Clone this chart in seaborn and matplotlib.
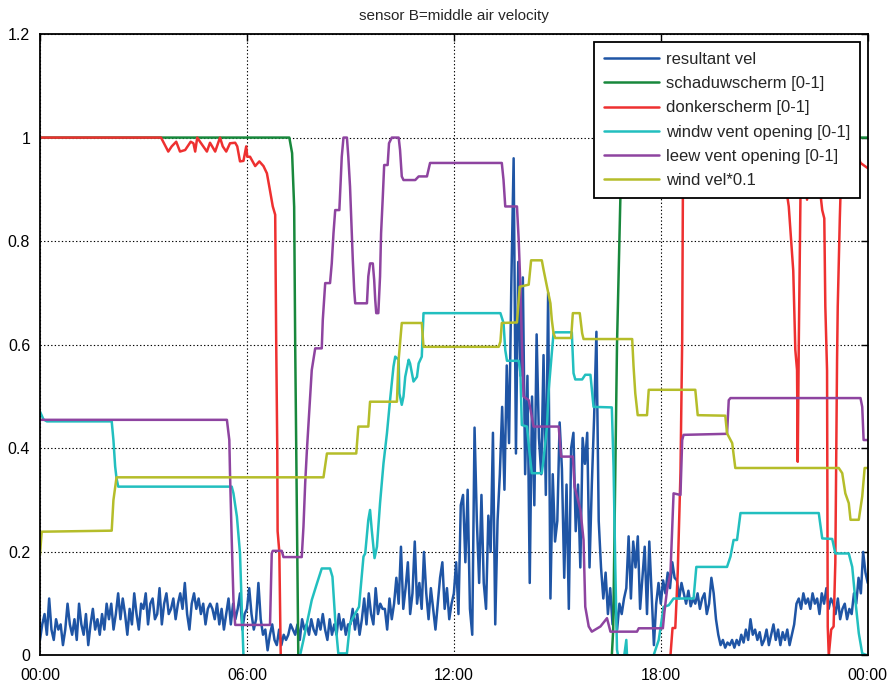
import numpy as np
import matplotlib
matplotlib.use("Agg")
import matplotlib.pyplot as plt
import seaborn as sns

sns.set_style("white")
plt.rcParams['font.family'] = ['Liberation Sans', 'DejaVu Sans']

# ---- data (time in hours after midnight) ----
sample_minutes = 4
resultant_vel = [
    0.03, 0.06, 0.08, 0.04, 0.11, 0.05, 0.03, 0.07, 0.05, 0.06, 0.02, 0.05, 0.10, 0.06, 0.04,
    0.07, 0.03, 0.10, 0.06, 0.04, 0.08, 0.02, 0.06, 0.09, 0.05, 0.07, 0.04, 0.08, 0.05, 0.10,
    0.07, 0.10, 0.05, 0.08, 0.12, 0.07, 0.11, 0.08, 0.04, 0.09, 0.06, 0.12, 0.08, 0.05, 0.10,
    0.09, 0.12, 0.06, 0.10, 0.11, 0.07, 0.08, 0.13, 0.06, 0.10, 0.12, 0.08, 0.09, 0.11, 0.07,
    0.10, 0.12, 0.09, 0.14, 0.08, 0.05, 0.10, 0.12, 0.09, 0.11, 0.08, 0.10, 0.06, 0.09, 0.10,
    0.09, 0.07, 0.10, 0.06, 0.09, 0.05, 0.08, 0.11, 0.06, 0.10, 0.07, 0.09, 0.12, 0.05, 0.08,
    0.09, 0.13, 0.08, 0.05, 0.07, 0.14, 0.07, 0.04, 0.05, 0.01, 0.04, 0.06, 0.03, 0.02, 0.05,
    0.02, 0.04, 0.03, 0.04, 0.06, 0.05, 0.04, 0.06, 0.03, 0.07, 0.05, 0.06, 0.04, 0.07, 0.05,
    0.04, 0.07, 0.05, 0.08, 0.05, 0.03, 0.07, 0.04, 0.06, 0.04, 0.08, 0.05, 0.07, 0.04, 0.06,
    0.06, 0.09, 0.05, 0.08, 0.04, 0.07, 0.11, 0.06, 0.12, 0.08, 0.06, 0.13, 0.08, 0.10, 0.09,
    0.09, 0.05, 0.11, 0.07, 0.10, 0.15, 0.10, 0.21, 0.09, 0.13, 0.18, 0.08, 0.12, 0.22, 0.10,
    0.14, 0.09, 0.20, 0.12, 0.07, 0.13, 0.09, 0.05, 0.10, 0.15, 0.18, 0.09, 0.13, 0.07, 0.10,
    0.12, 0.18, 0.08, 0.29, 0.31, 0.18, 0.32, 0.09, 0.04, 0.44, 0.26, 0.14, 0.31, 0.14, 0.09,
    0.27, 0.20, 0.43, 0.06, 0.26, 0.35, 0.48, 0.32, 0.56, 0.41, 0.72, 0.96, 0.39, 0.76, 0.54,
    0.73, 0.35, 0.54, 0.14, 0.50, 0.29, 0.62, 0.42, 0.35, 0.58, 0.31, 0.70, 0.11, 0.35, 0.22,
    0.26, 0.45, 0.36, 0.15, 0.33, 0.09, 0.40, 0.43, 0.24, 0.33, 0.17, 0.42, 0.37, 0.43, 0.17,
    0.33, 0.46, 0.625, 0.26, 0.17, 0.11, 0.16, 0.08, 0.13, 0.06, 0.12, 0.05, 0.10, 0.08, 0.11,
    0.13, 0.23, 0.11, 0.22, 0.17, 0.23, 0.09, 0.15, 0.21, 0.08, 0.22, 0.12, 0.02, 0.10, 0.14,
    0.10, 0.145, 0.12, 0.16, 0.13, 0.18, 0.15, 0.145, 0.11, 0.14, 0.12, 0.10, 0.125, 0.095, 0.11,
    0.10, 0.12, 0.09, 0.11, 0.12, 0.08, 0.10, 0.15, 0.12, 0.07, 0.04, 0.02, 0.03, 0.015, 0.025,
    0.02, 0.03, 0.015, 0.03, 0.02, 0.04, 0.025, 0.05, 0.03, 0.07, 0.04, 0.05, 0.03, 0.045, 0.02,
    0.03, 0.05, 0.02, 0.04, 0.06, 0.03, 0.05, 0.02, 0.045, 0.03, 0.05, 0.02, 0.04, 0.06, 0.10,
    0.11, 0.09, 0.12, 0.10, 0.11, 0.09, 0.12, 0.10, 0.11, 0.08, 0.12, 0.10, 0.13, 0.09, 0.11,
    0.10, 0.08, 0.11, 0.07, 0.09, 0.10, 0.07, 0.09, 0.08, 0.12, 0.10, 0.15, 0.12, 0.20, 0.16,
    0.14,
]
resultant_t = np.arange(len(resultant_vel)) * sample_minutes / 60.0

schaduw_t = [0, 7.23, 7.31, 7.37, 7.40, 7.43, 7.46, 7.49, 16.58, 16.62, 16.73, 16.83, 16.88, 24]
schaduw_v = [1, 1, 0.97, 0.866, 0.6, 0.4, 0.2, 0.0, 0.0, 0.05, 0.6, 0.89, 1.0, 1.0]

donker_t = [0, 3.51, 3.72, 3.82, 3.95, 4.06, 4.21, 4.37, 4.45, 4.50, 4.56, 4.64, 4.84, 4.93,
            5.08, 5.22, 5.30, 5.40, 5.51, 5.66, 5.72, 5.80, 5.90, 5.98, 6.01, 6.09, 6.24, 6.36,
            6.48, 6.58, 6.65, 6.75, 6.82, 6.85, 6.88, 6.89, 6.94, 6.98,
            18.28, 18.34, 18.42, 18.49, 18.57, 18.62, 18.64, 18.66,
            21.62, 21.66, 21.71, 21.78, 21.84, 21.87, 21.90, 21.95, 21.97, 22.00, 22.05, 22.08,
            22.20, 22.24, 22.28, 22.60, 22.63, 22.68, 22.74, 22.77, 22.82, 22.84, 22.87,
            22.94, 23.01, 23.06, 23.11, 23.13, 23.19, 23.21, 23.25, 23.55, 23.79, 24.0]
donker_v = [1.0, 1.0, 0.973, 0.983, 0.992, 0.973, 0.976, 0.992, 0.989, 0.973, 1.0, 0.992, 0.973,
            0.990, 0.973, 1.0, 0.983, 0.973, 0.989, 0.990, 0.983, 0.954, 0.955, 0.983, 0.963,
            0.963, 0.945, 0.954, 0.945, 0.931, 0.905, 0.867, 0.851, 0.60, 0.40, 0.24, 0.20, 0.0,
            0.0, 0.053, 0.053, 0.159, 0.352, 0.609, 0.89, 1.0,
            1.0, 0.89, 0.867, 0.80, 0.743, 0.667, 0.59, 0.551, 0.374, 0.60, 0.89, 1.0,
            1.0, 0.88, 1.0, 1.0, 0.89, 0.86, 0.844, 0.674, 0.55, 0.056, 0.0,
            0.05, 0.056, 0.18, 0.57, 0.674, 0.844, 0.89, 1.0, 1.0, 0.951, 0.941]

windw_t = [0, 0.10, 0.2, 2.08, 2.13, 2.18, 2.22, 2.27, 5.56, 5.61, 5.71, 5.80, 5.85, 5.90,
           7.54, 7.64, 7.88, 8.03, 8.17, 8.41, 8.48, 8.56, 8.65, 8.90, 8.99, 9.14, 9.25, 9.38,
           9.43, 9.52, 9.57, 9.62, 9.70, 9.77, 9.86, 9.96, 10.06, 10.15, 10.25, 10.30, 10.40,
           10.42, 10.49, 10.54, 10.59, 10.69, 10.73, 10.83, 10.93, 10.98, 11.07, 11.12,
           13.35, 13.44, 13.49, 13.54, 13.88, 13.93, 13.97, 14.12, 14.19, 14.26, 14.55, 14.60,
           14.70, 14.75, 14.84, 14.89, 14.94, 15.42, 15.47, 15.52, 15.72, 15.81, 15.96, 16.05,
           16.58, 16.63, 16.68, 16.73, 16.76, 16.94, 17.0, 17.02, 17.79, 17.94, 18.04, 18.08,
           18.23, 18.37, 18.95, 19.03, 19.92, 20.02, 20.11, 20.21, 20.31, 22.58, 22.68, 22.97,
           23.06, 23.45, 23.55, 23.64, 23.74, 23.84, 24.0]
windw_v = [0.471, 0.456, 0.452, 0.452, 0.416, 0.365, 0.342, 0.326, 0.326, 0.313, 0.268, 0.197,
           0.094, 0.0, 0.0, 0.03, 0.107, 0.139, 0.168, 0.168, 0.152, 0.069, 0.004, 0.004, 0.062,
           0.081, 0.094, 0.191, 0.197, 0.262, 0.281, 0.242, 0.188, 0.21, 0.294, 0.371, 0.429,
           0.493, 0.558, 0.577, 0.571, 0.506, 0.484, 0.50, 0.538, 0.571, 0.564, 0.529, 0.538,
           0.564, 0.577, 0.661,
           0.661, 0.642, 0.59, 0.569, 0.569, 0.545, 0.445, 0.442, 0.394, 0.352, 0.352, 0.378,
           0.442, 0.513, 0.584, 0.622, 0.624, 0.624, 0.545, 0.533, 0.533, 0.542, 0.542, 0.48,
           0.479, 0.365, 0.171, 0.011, 0.0, 0.0, 0.03, 0.0, 0.0, 0.03, 0.075, 0.094,
           0.097, 0.110, 0.110, 0.171, 0.171, 0.191, 0.223, 0.223, 0.275, 0.275, 0.226, 0.225,
           0.197, 0.197, 0.171, 0.107, 0.043, 0.004, 0.0]

leew_t = [0, 5.42, 5.49, 5.51, 5.56, 5.61, 5.66, 6.67, 6.72, 6.75, 7.01, 7.06, 7.59, 7.64,
          7.69, 7.74, 7.88, 7.98, 8.17, 8.20, 8.27, 8.41, 8.46, 8.51, 8.56, 8.68, 8.72, 8.75,
          8.80, 8.90, 8.94, 8.99, 9.07, 9.11, 9.14, 9.48, 9.52, 9.57, 9.65, 9.69, 9.72, 9.75,
          9.81, 9.86, 9.89, 9.94, 9.98, 10.08, 10.12, 10.20, 10.40, 10.44, 10.49, 10.54, 10.88,
          10.98, 11.22, 11.31, 13.39, 13.44, 13.49, 13.83, 13.88, 13.93, 13.97, 14.02, 14.17,
          14.26, 14.31, 15.04, 15.11, 15.45, 15.50, 15.67, 15.76, 15.81, 15.91, 16.00, 16.25,
          16.44, 16.54, 17.31, 17.36, 18.06, 18.10, 18.18, 18.28, 18.37, 18.57, 18.62, 18.66,
          19.92, 19.97, 20.02, 23.79, 23.84, 23.88, 24.0]
leew_v = [0.455, 0.455, 0.416, 0.352, 0.223, 0.107, 0.059, 0.059, 0.197, 0.202, 0.202, 0.19,
          0.19, 0.249, 0.333, 0.397, 0.551, 0.593, 0.593, 0.648, 0.719, 0.719, 0.757, 0.815,
          0.860, 0.860, 0.918, 0.963, 1.0, 1.0, 0.963, 0.905, 0.764, 0.706, 0.680, 0.680, 0.732,
          0.757, 0.757, 0.725, 0.687, 0.661, 0.661, 0.732, 0.815, 0.886, 0.947, 0.947, 0.989,
          1.0, 1.0, 0.976, 0.925, 0.918, 0.918, 0.925, 0.925, 0.951, 0.951, 0.918, 0.867, 0.867,
          0.802, 0.712, 0.609, 0.50, 0.493, 0.461, 0.442, 0.442, 0.384, 0.384, 0.326, 0.281,
          0.223, 0.094, 0.056, 0.046, 0.056, 0.072, 0.046, 0.046, 0.0525, 0.0525, 0.081, 0.126,
          0.159, 0.313, 0.31, 0.416, 0.426, 0.428, 0.493, 0.497, 0.497, 0.48, 0.416, 0.416]

wind_t = [0, 0.05, 2.08, 2.13, 2.22, 8.22, 8.32, 9.17, 9.23, 9.52, 9.57, 10.35, 10.39, 10.49,
          11.07, 11.12, 13.30, 13.35, 13.39, 13.83, 13.91, 14.17, 14.24, 14.55, 14.60, 14.70,
          14.80, 14.84, 14.89, 14.94, 15.40, 15.45, 15.65, 15.72, 15.76, 17.17, 17.21, 17.26,
          17.33, 17.60, 17.65, 19.00, 19.07, 19.87, 19.92, 20.07, 20.16, 23.16, 23.26, 23.35,
          23.45, 23.50, 23.74, 23.84, 23.91, 24.0]
wind_v = [0.194, 0.239, 0.241, 0.30, 0.344, 0.344, 0.39, 0.39, 0.442, 0.442, 0.490, 0.490,
          0.564, 0.642, 0.642, 0.596, 0.596, 0.606, 0.642, 0.643, 0.712, 0.716, 0.763, 0.763,
          0.745, 0.712, 0.680, 0.648, 0.622, 0.613, 0.613, 0.661, 0.661, 0.622, 0.611, 0.611,
          0.558, 0.506, 0.464, 0.464, 0.513, 0.513, 0.464, 0.463, 0.429, 0.41, 0.362, 0.362,
          0.352, 0.313, 0.294, 0.262, 0.262, 0.307, 0.362, 0.362]

labels = ["resultant vel", "schaduwscherm [0-1]", "donkerscherm [0-1]",
          "windw vent opening [0-1]", "leew vent opening [0-1]", "wind vel*0.1"]
colors = ["#1F55A5", "#18883C", "#EE3030", "#22BFBF", "#8E44A0", "#B5BD2A"]
hour_ticks = [0, 6, 12, 18, 24]
hour_labels = ["00:00", "06:00", "12:00", "18:00", "00:00"]
value_ticks = [0, 0.2, 0.4, 0.6, 0.8, 1.0, 1.2]
value_labels = ["0", "0.2", "0.4", "0.6", "0.8", "1", "1.2"]

# ---- figure ----
fig = plt.figure(figsize=(8.9, 6.84), dpi=100)
ax = fig.add_axes([0.0449, 0.0417, 0.9301, 0.9086])

series = [(resultant_t, resultant_vel), (schaduw_t, schaduw_v), (donker_t, donker_v),
          (windw_t, windw_v), (leew_t, leew_v), (wind_t, wind_v)]
for (t, v), lab, col in zip(series, labels, colors):
    sns.lineplot(x=t, y=v, ax=ax, color=col, linewidth=1.8, label=lab,
                 estimator=None, sort=False)

ax.set_xlim(0, 24)
ax.set_ylim(0, 1.2)
ax.set_xticks(hour_ticks)
ax.set_xticklabels(hour_labels)
ax.set_yticks(value_ticks)
ax.set_yticklabels(value_labels)
ax.set_xlabel("")
ax.set_ylabel("")
ax.grid(True, linestyle=(0, (1.2, 2.0)), color="black", linewidth=0.8)
for sp in ax.spines.values():
    sp.set_visible(True)
    sp.set_color("black")
    sp.set_linewidth(1.3)
ax.tick_params(direction="in", length=5, width=1, top=True, right=True,
               labelsize=11.5, colors="black")
ax.tick_params(axis="x", pad=9)
ax.tick_params(axis="y", pad=7)
ax.set_title("sensor B=middle air velocity", fontsize=11, pad=10)

leg = ax.legend(loc="upper right", bbox_to_anchor=(0.9907, 0.987), borderaxespad=0,
                frameon=True, fancybox=False, edgecolor="black", framealpha=1,
                fontsize=12, handlelength=3.3, handletextpad=0.4, labelspacing=0.55,
                borderpad=0.6)
leg.get_frame().set_linewidth(1.3)

fig.savefig("out.png", dpi=100)
